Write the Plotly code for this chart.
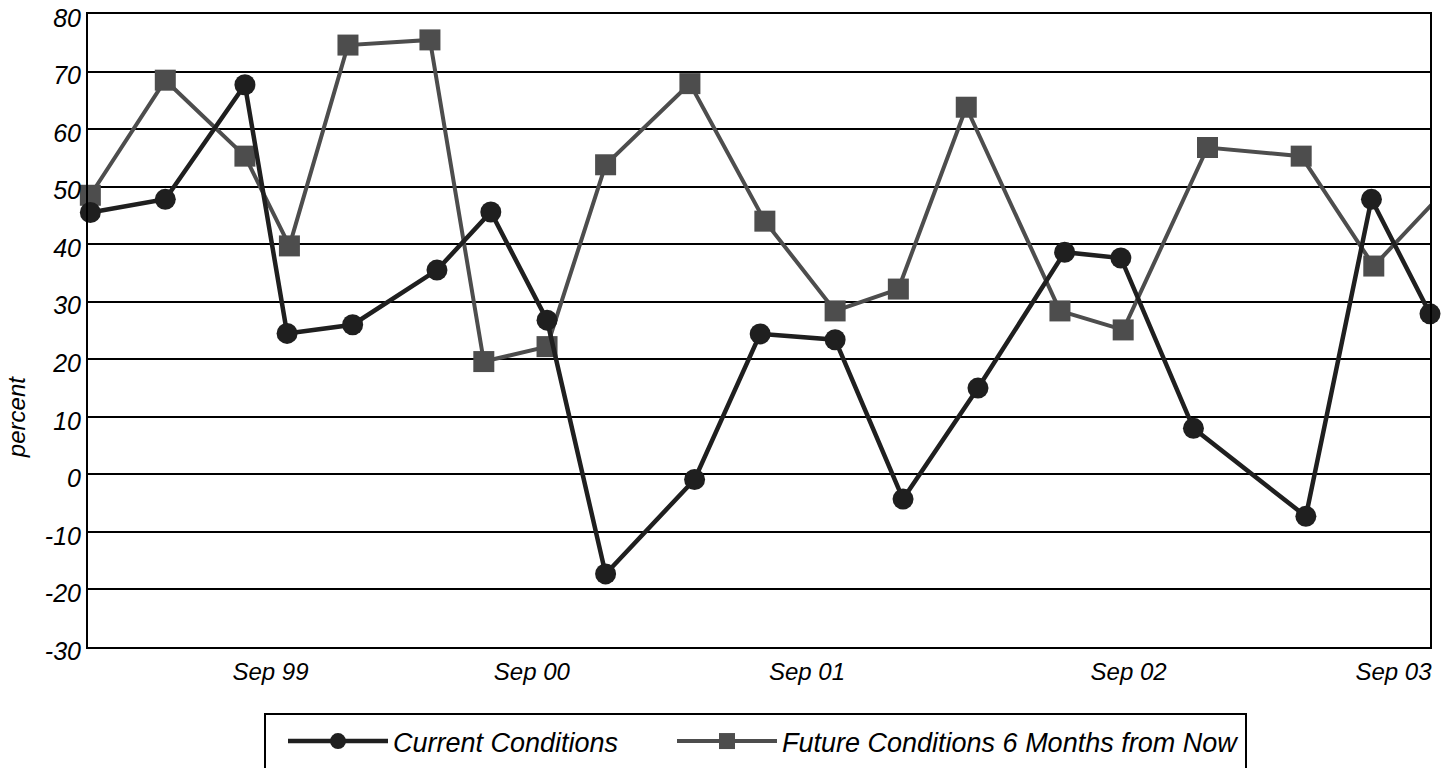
import plotly.graph_objects as go

# time axis: months elapsed since the first survey shown
current_t = [0.1, 3.3, 6.7, 8.5, 11.3, 14.9, 17.2, 19.6, 22.1, 25.9,
             28.7, 31.9, 34.8, 38.0, 41.7, 44.1, 47.2, 52.0, 54.8, 57.3]
current_vals = [45.5, 47.8, 67.7, 24.5, 26.0, 35.5, 45.6, 26.8, -17.3, -0.9,
                24.4, 23.4, -4.3, 15.0, 38.6, 37.6, 8.0, -7.3, 47.8, 27.9]

future_t = [0.1, 3.3, 6.7, 8.6, 11.1, 14.6, 16.9, 19.6, 22.1, 25.7,
            28.9, 31.9, 34.6, 37.5, 41.5, 44.2, 47.8, 51.8, 54.9, 57.4]
future_vals = [48.5, 68.5, 55.3, 39.7, 74.6, 75.5, 19.6, 22.2, 53.8, 67.9,
               44.0, 28.4, 32.2, 63.8, 28.4, 25.1, 56.8, 55.3, 36.2, 47.0]

tick_t = [7.79, 18.95, 30.70, 44.43, 55.74]
tick_labels = ["Sep 99", "Sep 00", "Sep 01", "Sep 02", "Sep 03"]

y_ticks = [80, 70, 60, 50, 40, 30, 20, 10, 0, -10, -20, -30]
y_tick_labels = ["80", "70", "60", "50", "40", "30", "20", "10", "0", "-10", "-20", "-30"]

series_names = ["Current Conditions", "Future Conditions 6 Months from Now"]

FONT = "Liberation Sans, Arial, Helvetica, sans-serif"
BLACK = "#1f1f1f"
GRAY = "#4d4d4d"

fig = go.Figure()
fig.add_trace(go.Scatter(
    x=future_t, y=future_vals, name=series_names[1], mode="lines+markers",
    line=dict(color=GRAY, width=4),
    marker=dict(symbol="square", size=21, color=GRAY, line=dict(width=0)),
    cliponaxis=False, legend="legend2",
))
fig.add_trace(go.Scatter(
    x=current_t, y=current_vals, name=series_names[0], mode="lines+markers",
    line=dict(color=BLACK, width=4.5),
    marker=dict(symbol="circle", size=21, color=BLACK, line=dict(width=0)),
    cliponaxis=False, legend="legend",
))

legend_common = dict(
    orientation="h", xref="container", yref="container",
    xanchor="left", y=1 - 717 / 768, yanchor="top",
    borderwidth=0, bgcolor="rgba(0,0,0,0)",
    font=dict(family=FONT, size=27, color="black", style="italic"),
    itemwidth=100,
)

fig.update_layout(
    template="none",
    width=1448, height=768,
    margin=dict(l=88, r=18, t=14, b=121, autoexpand=False),
    paper_bgcolor="white", plot_bgcolor="white",
    font=dict(family=FONT, color="black", size=24, style="italic"),
    showlegend=True,
    legend=dict(x=283 / 1448, **legend_common),
    legend2=dict(x=672 / 1448, **legend_common),
    xaxis=dict(
        range=[0, 57.3], tickmode="array", tickvals=tick_t, ticktext=tick_labels,
        showgrid=False, zeroline=False, ticks="", automargin=False,
        showline=True, linecolor="black", linewidth=2, mirror=True,
        tickfont=dict(family=FONT, size=24, style="italic"),
        ticklabelstandoff=2,
    ),
    yaxis=dict(
        range=[-30, 80], tickmode="array", tickvals=y_ticks, ticktext=y_tick_labels,
        showgrid=True, gridcolor="black", gridwidth=2, automargin=False,
        zeroline=True, zerolinecolor="black", zerolinewidth=2,
        ticks="", showline=True, linecolor="black", linewidth=2, mirror=True,
        tickfont=dict(family=FONT, size=25, style="italic"),
        ticklabelstandoff=0, ticklabelshift=4, ticklabeloverflow="allow",
    ),
    annotations=[dict(
        text="percent", xref="paper", yref="paper", x=-0.0537, y=0.363,
        xanchor="center", yanchor="middle", textangle=-90, showarrow=False,
        font=dict(family=FONT, size=24, color="black", style="italic"),
    )],
    shapes=[dict(
        type="rect", xref="paper", yref="paper",
        x0=(265 - 88) / 1342, x1=(1246 - 88) / 1342,
        y0=(647 - 714) / 633, y1=(647 - 790) / 633,
        line=dict(color="black", width=2), fillcolor="rgba(0,0,0,0)", layer="below",
    )],
)

fig.write_html("out.html", config={"displayModeBar": False},
               post_script="document.body.style.margin='0';")
